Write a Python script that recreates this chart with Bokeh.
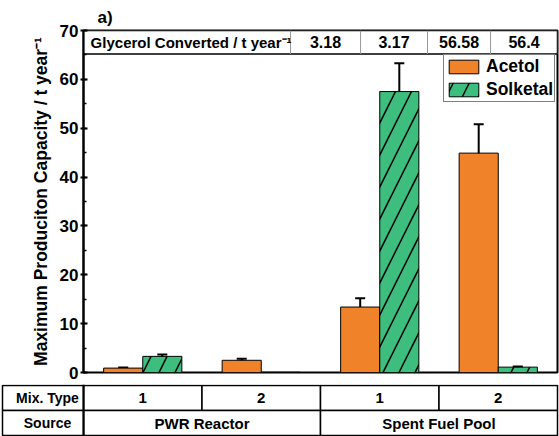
from bokeh.plotting import figure
from bokeh.models import Range1d, ColumnDataSource, Whisker, TeeHead, SingleIntervalTicker
from bokeh.core.properties import value
from bokeh.embed import file_html
from bokeh.resources import INLINE

# ---------------- data ----------------
sources = ["PWR Reactor", "Spent Fuel Pool"]
source_groups = [2, 2]              # number of mix types per source
mix_types = ["1", "2", "1", "2"]
acetol = [0.9, 2.5, 13.4, 44.9]
acetol_err = [0.1, 0.3, 1.8, 5.9]
solketal = [3.3, 0.05, 57.5, 1.1]
solketal_err = [0.4, 0.0, 5.8, 0.15]
glycerol_converted = [3.18, 3.17, 56.58, 56.4]
glycerol_label = "Glycerol Converted / t year\u207b\u00b9"
y_ticks = [0, 10, 20, 30, 40, 50, 60, 70]

# ---------------- style ----------------
FONT = "Liberation Sans"
ORANGE = "#F0822A"
GREEN = "#3DBE7E"
BAR_W = 0.33

pos = [i + 1 for i in range(len(mix_types))]
x_ac = [x - BAR_W / 2 for x in pos]
x_so = [x + BAR_W / 2 for x in pos]

p = figure(width=559, height=384, x_range=Range1d(0.5, 4.5),
           y_range=Range1d(y_ticks[0], y_ticks[-1]),
           output_backend="svg", toolbar_location=None,
           min_border_left=83, min_border_right=2, min_border_top=30, min_border_bottom=12)
p.xaxis.visible = False
p.xgrid.visible = False
p.ygrid.visible = False
p.outline_line_color = "black"
p.outline_line_width = 2

p.title.text = "a)"
p.title.text_font = FONT
p.title.text_font_style = "bold"
p.title.text_font_size = "17px"
p.title.text_color = "black"
p.title.align = "left"
p.title.offset = 14
p.title.standoff = 8

ya = p.yaxis[0]
ya.ticker = SingleIntervalTicker(interval=10, num_minor_ticks=2)
ya.axis_label = "Maximum Produciton Capacity / t year\u207b\u00b9"
ya.axis_label_text_font = FONT
ya.axis_label_text_font_style = "bold"
ya.axis_label_text_font_size = "17.5px"
ya.axis_label_text_color = "black"
ya.axis_label_standoff = 6
ya.major_label_text_font = FONT
ya.major_label_text_font_style = "bold"
ya.major_label_text_font_size = "17px"
ya.major_label_text_color = "black"
ya.major_label_standoff = 2
ya.axis_line_width = 2
ya.major_tick_line_width = 2
ya.major_tick_in = 4
ya.major_tick_out = 3
ya.minor_tick_line_width = 1.5
ya.minor_tick_in = 3
ya.minor_tick_out = 0

src = ColumnDataSource(dict(x_ac=x_ac, x_so=x_so, ac=acetol, so=solketal,
                            ac_lo=[a - e for a, e in zip(acetol, acetol_err)],
                            ac_hi=[a + e for a, e in zip(acetol, acetol_err)]))

p.vbar(x="x_ac", top="ac", width=BAR_W, source=src, fill_color=ORANGE,
       line_color="black", line_width=1, legend_label="Acetol")
p.vbar(x="x_so", top="so", width=BAR_W, source=src, fill_color=GREEN,
       line_color="black", line_width=1, hatch_pattern="/", hatch_color="black",
       hatch_scale=32, hatch_weight=1.5, legend_label="Solketal")

p.add_layout(Whisker(base="x_ac", lower="ac_lo", upper="ac_hi", source=src,
                     line_width=2, line_color="black",
                     upper_head=TeeHead(size=10, line_width=2),
                     lower_head=TeeHead(size=10, line_width=2)))

so_idx = [i for i, e in enumerate(solketal_err) if e > 0]
src_so = ColumnDataSource(dict(x=[x_so[i] for i in so_idx],
                               lo=[solketal[i] - solketal_err[i] for i in so_idx],
                               hi=[solketal[i] + solketal_err[i] for i in so_idx]))
p.add_layout(Whisker(base="x", lower="lo", upper="hi", source=src_so,
                     line_width=2, line_color="black",
                     upper_head=TeeHead(size=10, line_width=2),
                     lower_head=TeeHead(size=10, line_width=2)))

# top band "Glycerol Converted"
band_bottom, band_top = 65.2, 70
band_edges = [0.5, 2.247, 2.838, 3.403, 3.935, 4.5]
p.quad(left=[band_edges[0]], right=[band_edges[-1]], bottom=[band_bottom], top=[band_top],
       fill_color="white", line_color="black", line_width=1.5)
p.segment(x0=band_edges[1:-1], y0=[band_bottom] * 4, x1=band_edges[1:-1], y1=[band_top] * 4,
          line_color="#999999", line_width=1)
band_mid = (band_bottom + band_top) / 2
p.text(x=[0.56], y=[band_mid], text=[glycerol_label], text_font=value(FONT),
       text_font_style="bold", text_font_size="15px", text_baseline="middle",
       text_align="left", text_color="black")
centers = [(band_edges[i + 1] + band_edges[i + 2]) / 2 for i in range(4)]
p.text(x=centers, y=[band_mid] * 4, text=[f"{v:g}" for v in glycerol_converted],
       text_font=value(FONT), text_font_style="bold", text_font_size="16px",
       text_baseline="middle", text_align="center", text_color="black")

lg = p.legend[0]
lg.location = (360, 270)
lg.label_text_font = FONT
lg.label_text_font_style = "bold"
lg.label_text_font_size = "17.5px"
lg.label_text_color = "black"
lg.label_height = 17
lg.glyph_height = 17
lg.glyph_width = 37
lg.spacing = 2
lg.padding = 1
lg.margin = 0
lg.label_standoff = 4
lg.border_line_color = "black"
lg.border_line_width = 1
lg.background_fill_alpha = 1

# ---------------- bottom table (separate root, pixel coordinates) ----------------
frame_left, unit = 83, 118.5
t = figure(width=559, height=52, x_range=Range1d(0, 559), y_range=Range1d(436, 384),
           output_backend="svg", toolbar_location=None,
           min_border=0, min_border_left=0, min_border_right=0,
           min_border_top=0, min_border_bottom=0)
t.axis.visible = False
t.xgrid.visible = False
t.ygrid.visible = False
t.outline_line_color = None

edges = [frame_left + k * unit for k in range(len(mix_types) + 1)]
r1, r2, r3 = 385, 410, 435
t.quad(left=edges[:-1], right=edges[1:], top=[r1] * 4, bottom=[r2] * 4,
       fill_color="white", line_color="black", line_width=1.5)
s_edges = [edges[0]]
k = 0
for n in source_groups:
    k += n
    s_edges.append(edges[k])
t.quad(left=s_edges[:-1], right=s_edges[1:], top=[r2] * 2, bottom=[r3] * 2,
       fill_color="white", line_color="black", line_width=1.5)
t.quad(left=[2, 2], right=[frame_left] * 2, top=[r1, r2], bottom=[r2, r3],
       fill_color="white", line_color="black", line_width=1.5)
t.segment(x0=[frame_left], y0=[384], x1=[frame_left], y1=[r3], line_color="black", line_width=2)

t.text(x=[47, 47], y=[(r1 + r2) / 2, (r2 + r3) / 2], text=["Mix. Type", "Source"],
       text_font=value(FONT), text_font_style="bold", text_font_size="14px",
       text_align="center", text_baseline="middle", text_color="black")
t.text(x=[(edges[i] + edges[i + 1]) / 2 for i in range(4)], y=[(r1 + r2) / 2] * 4,
       text=mix_types, text_font=value(FONT), text_font_style="bold", text_font_size="15px",
       text_align="center", text_baseline="middle", text_color="black")
t.text(x=[(s_edges[i] + s_edges[i + 1]) / 2 for i in range(2)], y=[(r2 + r3) / 2] * 2,
       text=sources, text_font=value(FONT), text_font_style="bold", text_font_size="15px",
       text_align="center", text_baseline="middle", text_color="black")

open("out.html", "w").write(file_html([p, t], INLINE))
